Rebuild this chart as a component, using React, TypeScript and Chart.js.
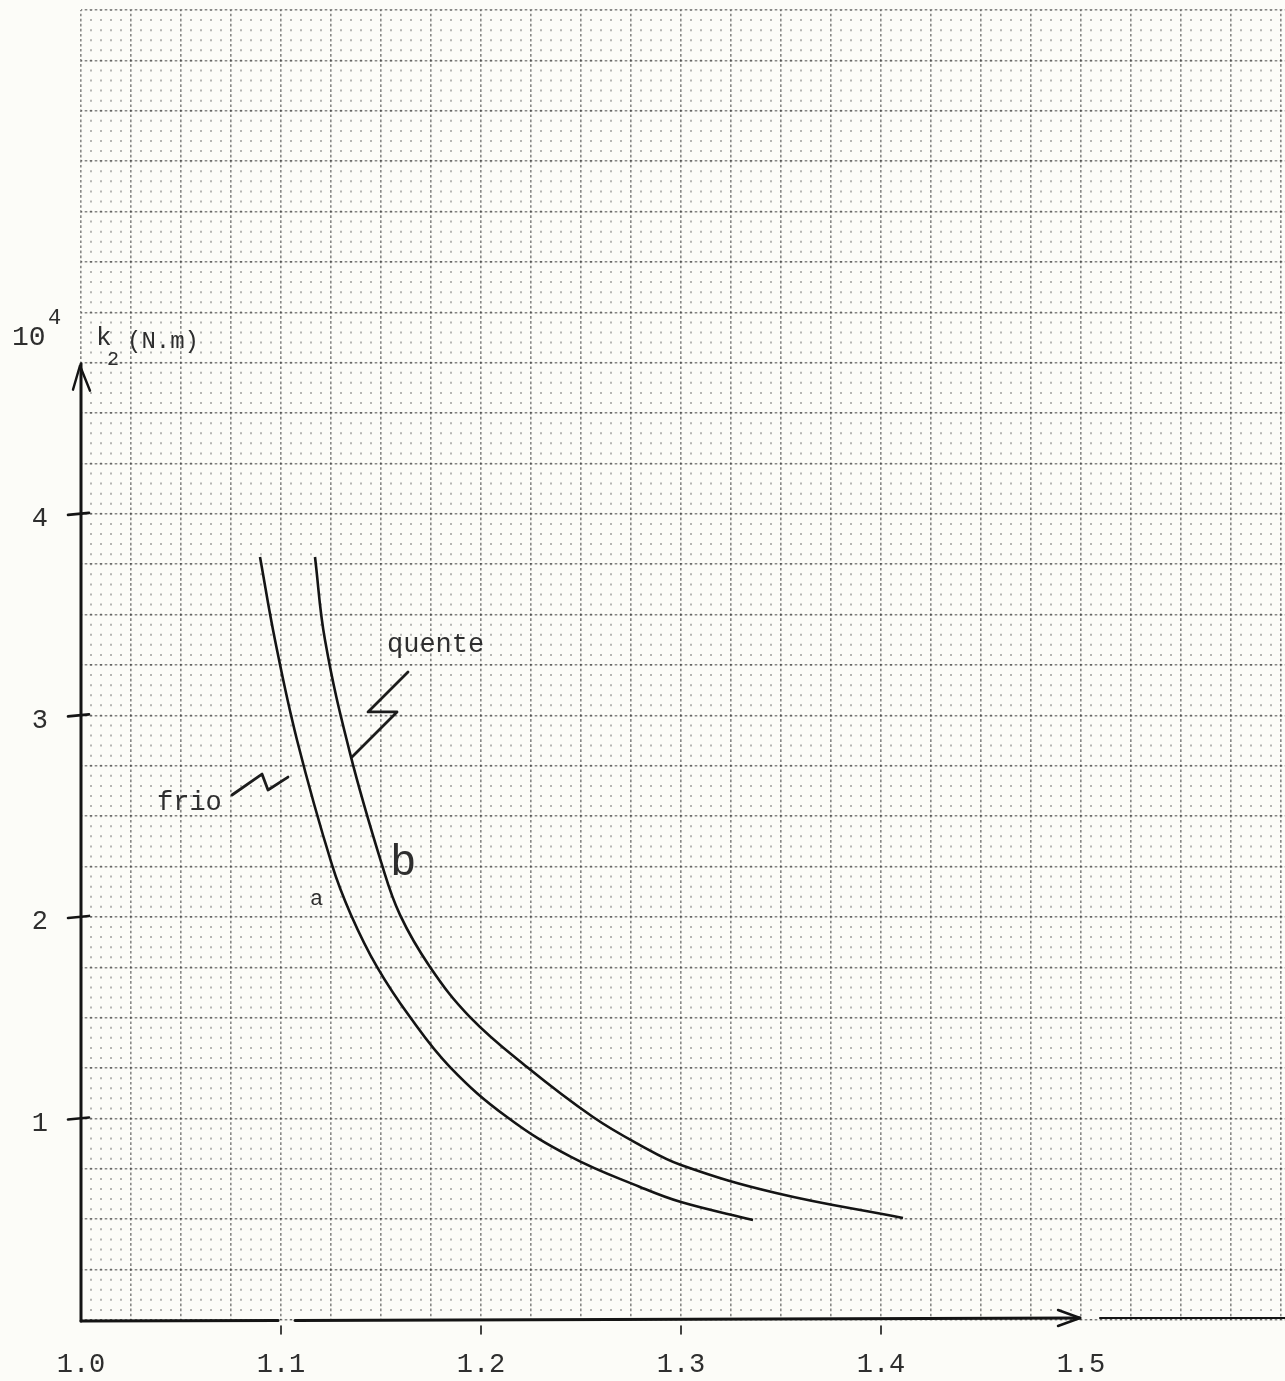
import React, { useEffect, useRef } from 'react';
import { Chart, registerables } from 'chart.js';

Chart.register(...registerables);

// ---- axis ticks / labels ----
const X_TICK_VALUES = [1.0, 1.1, 1.2, 1.3, 1.4, 1.5];
const X_TICK_LABELS = ['1.0', '1.1', '1.2', '1.3', '1.4', '1.5'];
const Y_TICK_VALUES = [1, 2, 3, 4];
const Y_TICK_LABELS = ['1', '2', '3', '4'];

// ---- curve a (frio) ----
const CURVE_A_X = [1.0895, 1.097, 1.108, 1.1255, 1.135, 1.148, 1.1645, 1.1845, 1.213, 1.245, 1.2795, 1.3, 1.336];
const CURVE_A_Y = [3.786, 3.374, 2.878, 2.258, 2.01, 1.752, 1.503, 1.255, 1.007, 0.809, 0.66, 0.585, 0.496];

// ---- curve b (quente) ----
const CURVE_B_X = [1.117, 1.122, 1.1345, 1.1505, 1.1595, 1.1745, 1.1945, 1.223, 1.256, 1.2795, 1.3, 1.3475, 1.411];
const CURVE_B_Y = [3.786, 3.374, 2.813, 2.258, 2.01, 1.752, 1.503, 1.255, 1.007, 0.868, 0.769, 0.63, 0.506];

// ---- ranges ----
const X_MIN = 1.0;
const X_MAX = 1.602;
const Y_MIN = 0;
const Y_MAX = 6.5;
const X_GRID_STEP = 0.005;
const Y_GRID_STEP = 0.05;
const X_MAJOR_STEP = 0.025;
const Y_MAJOR_STEP = 0.25;

// hand-drawn axis extents (data units)
const Y_AXIS_TOP = 4.745;
const X_AXIS_END = 1.4995;
const X_AXIS_GAP = [1.0985, 1.107];
const X_EDGE_START = 1.5095;
const X_MARKS = [1.1, 1.2, 1.3, 1.4];

// ---- annotations (data units) ----
const TEXTS = [
  { text: '10', x: 0.9655, y: 4.838, size: 28 },
  { text: '4', x: 0.9835, y: 4.94, size: 22 },
  { text: 'k', x: 1.0075, y: 4.838, size: 26 },
  { text: '2', x: 1.013, y: 4.74, size: 20 },
  { text: '(N.m)', x: 1.023, y: 4.822, size: 24 },
  { text: 'quente', x: 1.153, y: 3.314, size: 27 },
  { text: 'frio', x: 1.038, y: 2.53, size: 27 },
  { text: 'a', x: 1.1145, y: 2.059, size: 22 },
  { text: 'b', x: 1.1545, y: 2.208, size: 44 },
];

const SQUIGGLE_QUENTE_X = [1.1635, 1.1435, 1.158, 1.1355];
const SQUIGGLE_QUENTE_Y = [3.215, 3.017, 3.017, 2.793];
const SQUIGGLE_FRIO_X = [1.0755, 1.0905, 1.0935, 1.1035];
const SQUIGGLE_FRIO_Y = [2.605, 2.709, 2.63, 2.694];

const FONT = '"Liberation Mono", "DejaVu Sans Mono", monospace';
const INK = '#141414';
const TYPE_INK = '#2e2e2e';

function zip(xs: number[], ys: number[]) {
  return xs.map((x, i) => ({ x, y: ys[i] }));
}

function gridValues(min: number, max: number, step: number) {
  const out: number[] = [];
  const n = Math.floor((max - min) / step + 1e-6);
  for (let i = 0; i <= n; i++) out.push(Math.round((min + i * step) * 100000) / 100000);
  return out;
}

function isMultiple(v: number, step: number) {
  const r = v / step;
  return Math.abs(r - Math.round(r)) < 1e-6;
}

const paperPlugin = {
  id: 'paper',
  beforeDraw(chart: any) {
    const ctx = chart.ctx;
    ctx.save();
    ctx.fillStyle = '#fcfcf8';
    ctx.fillRect(0, 0, chart.width, chart.height);
    ctx.restore();
  },
  afterDatasetsDraw(chart: any) {
    const ctx = chart.ctx;
    const xs = chart.scales.x;
    const ys = chart.scales.y;
    const px = (v: number) => xs.getPixelForValue(v);
    const py = (v: number) => ys.getPixelForValue(v);
    ctx.save();
    ctx.strokeStyle = INK;
    ctx.lineCap = 'round';
    ctx.lineJoin = 'round';

    // y axis
    const x0 = px(X_MIN);
    const y0 = py(Y_MIN);
    const yTop = py(Y_AXIS_TOP);
    ctx.lineWidth = 3;
    ctx.beginPath();
    ctx.moveTo(x0, y0 + 1);
    ctx.lineTo(x0, yTop);
    ctx.stroke();
    // arrow head
    ctx.lineWidth = 2.4;
    ctx.beginPath();
    ctx.moveTo(x0 - 8, yTop + 26);
    ctx.lineTo(x0 - 1, yTop + 2);
    ctx.lineTo(x0 + 9, yTop + 27);
    ctx.stroke();

    // x axis (with small gap)
    ctx.lineWidth = 3;
    ctx.beginPath();
    ctx.moveTo(x0, y0 + 1);
    ctx.lineTo(px(X_AXIS_GAP[0]), y0 + 0.5);
    ctx.moveTo(px(X_AXIS_GAP[1]), y0 + 0.5);
    ctx.lineTo(px(X_AXIS_END), y0 - 2);
    ctx.stroke();
    const xe = px(X_AXIS_END);
    ctx.lineWidth = 2.4;
    ctx.beginPath();
    ctx.moveTo(xe - 22, y0 - 10);
    ctx.lineTo(xe, y0 - 2);
    ctx.lineTo(xe - 22, y0 + 6);
    ctx.stroke();
    // paper edge line beyond 1.5
    ctx.lineWidth = 2.2;
    ctx.beginPath();
    ctx.moveTo(px(X_EDGE_START), y0 - 2);
    ctx.lineTo(chart.width, y0 - 2);
    ctx.stroke();

    // y tick marks
    ctx.lineWidth = 2.6;
    for (const v of Y_TICK_VALUES) {
      const y = py(v);
      ctx.beginPath();
      ctx.moveTo(x0 - 13, y + 1);
      ctx.lineTo(x0 + 8, y - 1);
      ctx.stroke();
    }
    // x tick marks
    ctx.lineWidth = 1.6;
    for (const v of X_MARKS) {
      const x = px(v);
      ctx.beginPath();
      ctx.moveTo(x, y0 + 6);
      ctx.lineTo(x, y0 + 14);
      ctx.stroke();
    }

    // squiggles
    ctx.lineWidth = 2.8;
    ctx.strokeStyle = '#1c1c1c';
    for (const [sx, sy] of [[SQUIGGLE_QUENTE_X, SQUIGGLE_QUENTE_Y], [SQUIGGLE_FRIO_X, SQUIGGLE_FRIO_Y]]) {
      ctx.beginPath();
      sx.forEach((v: number, i: number) => {
        if (i === 0) ctx.moveTo(px(v), py(sy[i]));
        else ctx.lineTo(px(v), py(sy[i]));
      });
      ctx.stroke();
    }

    // texts
    ctx.fillStyle = TYPE_INK;
    ctx.textAlign = 'left';
    ctx.textBaseline = 'alphabetic';
    for (const t of TEXTS) {
      ctx.font = `${t.size}px ${FONT}`;
      ctx.fillText(t.text, px(t.x), py(t.y));
    }
    ctx.restore();
  },
};

const MAJOR_COLOR = 'rgba(20,20,20,0.5)';
const MINOR_COLOR = 'rgba(20,20,20,0.3)';

function zeroPadding(scale: any) {
  scale.paddingTop = 0;
  scale.paddingBottom = 0;
  scale.paddingLeft = 0;
  scale.paddingRight = 0;
}

export default function App() {
  const ref = useRef<HTMLCanvasElement | null>(null);

  useEffect(() => {
    if (!ref.current) return;
    const xGrid = gridValues(X_MIN, 1.6, X_GRID_STEP);
    const yGrid = gridValues(Y_MIN, Y_MAX, Y_GRID_STEP);
    const yPeriod = (1310 / (Y_MAX - Y_MIN)) * Y_GRID_STEP;

    const chart = new Chart(ref.current, {
      type: 'line',
      data: {
        datasets: [
          {
            label: 'a (frio)',
            data: zip(CURVE_A_X, CURVE_A_Y),
            borderColor: INK,
            borderWidth: 2.6,
            pointRadius: 0,
            fill: false,
            tension: 0.4,
          },
          {
            label: 'b (quente)',
            data: zip(CURVE_B_X, CURVE_B_Y),
            borderColor: INK,
            borderWidth: 2.6,
            pointRadius: 0,
            fill: false,
            tension: 0.4,
          },
        ],
      },
      options: {
        animation: false,
        responsive: false,
        events: [],
        layout: { padding: { top: 10, left: 0, right: 0, bottom: 0 } },
        plugins: { legend: { display: false }, tooltip: { enabled: false }, title: { display: false } },
        scales: {
          x: {
            type: 'linear',
            min: X_MIN,
            max: X_MAX,
            afterBuildTicks: (scale: any) => {
              scale.ticks = xGrid.map((value) => ({ value }));
            },
            afterFit: (scale: any) => {
              scale.height = 61;
              zeroPadding(scale);
            },
            ticks: {
              autoSkip: false,
              maxRotation: 0,
              minRotation: 0,
              padding: 29,
              color: TYPE_INK,
              font: { family: FONT, size: 27 },
              callback: (value: any) => {
                const i = X_TICK_VALUES.findIndex((t) => Math.abs(t - value) < 1e-7);
                return i >= 0 ? X_TICK_LABELS[i] : '';
              },
            },
            grid: {
              drawTicks: false,
              color: (c: any) => (isMultiple(c.tick.value, X_MAJOR_STEP) ? MAJOR_COLOR : MINOR_COLOR),
              lineWidth: (c: any) => (isMultiple(c.tick.value, X_MAJOR_STEP) ? 1.6 : 2),
            },
            border: {
              display: false,
              dash: (c: any) => (isMultiple(c.tick.value, X_MAJOR_STEP) ? [2.6, yPeriod / 2 - 2.6] : [2, yPeriod - 2]),
              dashOffset: (c: any) => (isMultiple(c.tick.value, X_MAJOR_STEP) ? 1.3 : 1),
            },
          },
          y: {
            type: 'linear',
            min: Y_MIN,
            max: Y_MAX,
            afterBuildTicks: (scale: any) => {
              scale.ticks = yGrid.map((value) => ({ value }));
            },
            afterFit: (scale: any) => {
              scale.width = 81;
              zeroPadding(scale);
            },
            ticks: {
              autoSkip: false,
              padding: 33,
              labelOffset: 5,
              color: TYPE_INK,
              font: { family: FONT, size: 27 },
              callback: (value: any) => {
                const i = Y_TICK_VALUES.findIndex((t) => Math.abs(t - value) < 1e-7);
                return i >= 0 ? Y_TICK_LABELS[i] : '';
              },
            },
            grid: {
              drawTicks: false,
              color: (c: any) => (isMultiple(c.tick.value, Y_MAJOR_STEP) ? MAJOR_COLOR : 'rgba(0,0,0,0)'),
              lineWidth: 1.6,
            },
            border: {
              display: false,
              dash: [2.6, 2.4],
              dashOffset: 1.3,
            },
          },
        },
      },
      plugins: [paperPlugin],
    } as any);

    return () => chart.destroy();
  }, []);

  return (
    <div style={{ position: 'absolute', left: 0, top: 0, width: 1285, height: 1381 }}>
      <canvas ref={ref} width={1285} height={1381} style={{ display: 'block', width: 1285, height: 1381 }} />
    </div>
  );
}
